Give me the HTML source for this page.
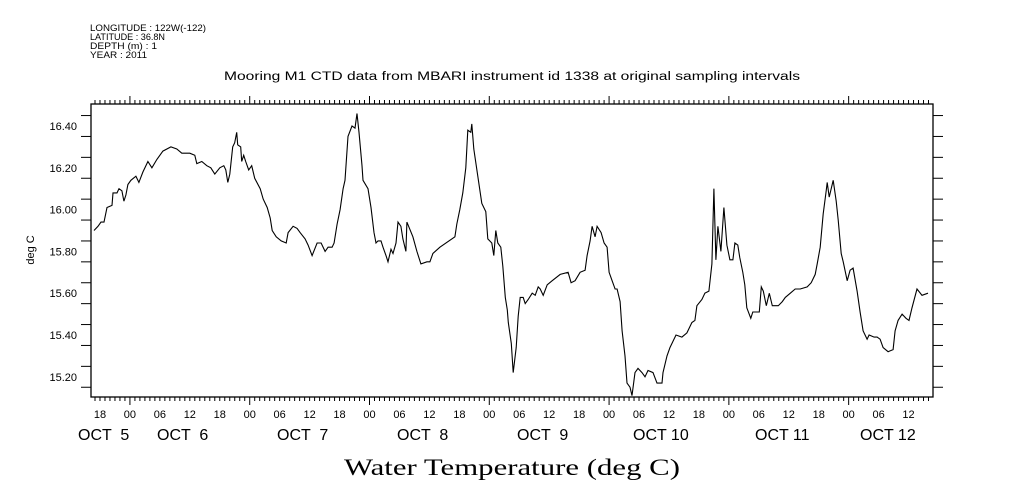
<!DOCTYPE html>
<html><head><meta charset="utf-8"><style>
body{margin:0;background:#fff;}
svg{display:block;font-family:"Liberation Sans",sans-serif;}
</style></head><body>
<svg id="chart" width="1009" height="504" viewBox="0 0 1009 504" xmlns="http://www.w3.org/2000/svg">
<rect width="1009" height="504" fill="#fff"/>
<g font-size="9.5" fill="#000">
<text x="90" y="31" textLength="116" lengthAdjust="spacingAndGlyphs">LONGITUDE : 122W(-122)</text>
<text x="90" y="40" textLength="75" lengthAdjust="spacingAndGlyphs">LATITUDE : 36.8N</text>
<text x="90" y="49" textLength="67" lengthAdjust="spacingAndGlyphs">DEPTH (m) : 1</text>
<text x="90" y="58" textLength="57" lengthAdjust="spacingAndGlyphs">YEAR : 2011</text>
</g>
<text x="512" y="80" font-size="11.5" text-anchor="middle" textLength="576" lengthAdjust="spacingAndGlyphs">Mooring M1 CTD data from MBARI instrument id 1338 at original sampling intervals</text>
<text transform="translate(34,250) rotate(-90)" font-size="11" text-anchor="middle">deg C</text>
<text x="512" y="475" font-family="'Liberation Serif',serif" font-size="23" text-anchor="middle" textLength="336" lengthAdjust="spacingAndGlyphs">Water Temperature (deg C)</text>
<g id="axes"></g>
<g id="marks"></g>
</svg>
<script>
const hours = [-7.2,-6.4,-5.8,-5.2,-4.6,-3.6,-3.4,-2.6,-2.2,-1.6,-1.2,-0.8,-0.4,0.2,1.2,1.8,2.6,3.6,4.4,5.4,6.6,8.2,9.4,10.4,12.0,13.0,13.4,14.4,15.4,16.2,17.0,18.0,18.8,19.2,19.6,20.0,20.6,21.0,21.4,21.6,22.2,22.4,22.8,23.2,23.8,24.4,25.0,26.1,26.7,27.5,28.1,28.5,29.3,30.3,31.3,31.7,32.7,33.5,34.1,35.1,35.7,36.5,37.5,38.3,39.1,39.7,40.5,40.9,41.5,42.1,42.7,43.1,43.7,44.5,45.1,45.5,45.9,46.5,46.7,47.7,48.3,48.9,49.3,49.7,50.3,50.7,51.3,51.7,52.3,52.7,53.3,53.7,54.3,54.7,55.3,55.5,56.7,57.5,58.3,59.5,60.1,60.7,62.1,65.1,65.5,66.1,66.7,67.3,67.7,68.3,68.5,68.9,69.7,70.5,71.3,71.7,72.5,72.9,73.3,73.7,74.3,74.7,75.2,75.6,75.8,76.4,76.8,77.4,77.8,78.2,78.8,79.2,79.8,80.6,81.2,81.8,82.2,82.8,83.6,84.6,86.2,87.8,88.4,89.2,90.2,91.2,91.6,92.2,92.6,93.2,93.6,94.4,95.0,95.6,96.0,96.6,97.2,97.6,98.2,98.6,99.2,99.6,100.2,100.6,101.2,101.8,102.6,103.2,103.8,104.8,105.6,106.6,106.8,107.6,108.2,109.4,110.6,111.6,112.6,113.2,113.6,114.6,115.2,116.0,116.6,117.0,117.4,117.8,118.4,119.0,119.6,120.2,120.8,121.2,121.8,122.2,122.8,123.2,123.6,124.4,124.8,125.7,126.1,126.5,126.9,127.5,128.1,128.7,129.9,130.7,131.3,132.3,133.3,134.3,135.7,136.5,137.3,137.7,138.3,138.9,139.5,139.7,140.1,140.9,141.5,141.9,142.5,142.9,143.7,144.3,144.9,145.7,146.3,146.9,147.7,148.1,149.1,149.7,150.3,150.9,151.9,152.9,153.3,153.9,154.7,155.5,156.1,156.7,157.7,158.7,159.9];
const temps = [15.90,15.92,15.94,15.94,16.01,16.02,16.08,16.08,16.10,16.09,16.04,16.07,16.12,16.14,16.16,16.13,16.18,16.23,16.20,16.24,16.28,16.30,16.29,16.27,16.27,16.26,16.22,16.23,16.21,16.20,16.17,16.20,16.21,16.19,16.13,16.17,16.30,16.32,16.37,16.31,16.30,16.23,16.26,16.23,16.19,16.21,16.15,16.10,16.05,16.01,15.96,15.90,15.87,15.85,15.84,15.89,15.92,15.91,15.89,15.86,15.83,15.78,15.84,15.84,15.80,15.82,15.82,15.84,15.93,16.00,16.10,16.14,16.35,16.40,16.39,16.46,16.37,16.21,16.14,16.10,16.01,15.89,15.84,15.85,15.85,15.82,15.78,15.75,15.81,15.79,15.84,15.94,15.92,15.86,15.80,15.94,15.87,15.80,15.74,15.75,15.75,15.79,15.82,15.87,15.93,16.00,16.08,16.20,16.38,16.37,16.41,16.29,16.16,16.03,15.99,15.86,15.84,15.78,15.90,15.84,15.82,15.73,15.58,15.52,15.46,15.36,15.22,15.34,15.49,15.58,15.58,15.55,15.57,15.60,15.59,15.63,15.62,15.59,15.64,15.66,15.69,15.70,15.65,15.66,15.70,15.71,15.78,15.85,15.92,15.87,15.92,15.89,15.84,15.82,15.70,15.66,15.62,15.62,15.56,15.42,15.30,15.17,15.15,15.11,15.22,15.24,15.22,15.20,15.23,15.22,15.17,15.17,15.22,15.30,15.34,15.40,15.39,15.41,15.46,15.47,15.54,15.57,15.60,15.61,15.74,16.10,15.76,15.92,15.80,16.01,15.83,15.76,15.76,15.84,15.83,15.77,15.70,15.64,15.53,15.48,15.51,15.51,15.51,15.63,15.61,15.54,15.60,15.54,15.54,15.56,15.58,15.60,15.62,15.62,15.63,15.65,15.69,15.74,15.82,15.98,16.09,16.13,16.06,16.14,16.04,15.95,15.79,15.75,15.66,15.71,15.72,15.61,15.51,15.42,15.38,15.40,15.39,15.39,15.38,15.34,15.32,15.33,15.42,15.47,15.50,15.48,15.47,15.53,15.62,15.59,15.60];
const yTickLabels = ["15.20","15.40","15.60","15.80","16.00","16.20","16.40"];
const hourLabels = ["18","00","06","12"];
const dayLabels = ["OCT  5","OCT  6","OCT  7","OCT  8","OCT  9","OCT 10","OCT 11","OCT 12"];

const NS="http://www.w3.org/2000/svg";
const L=91,R=933,T=104,B=397;
const H0=-7.8,H1=160.9;
function xs(h){return L+(h-H0)/(H1-H0)*(R-L);}
function ys(v){return 126+(16.4-v)*209;}
function mk(tag,attrs,parent){const e=document.createElementNS(NS,tag);for(const k in attrs)e.setAttribute(k,attrs[k]);parent.appendChild(e);return e;}
const ax=document.getElementById('axes');
const frame=mk('rect',{x:L,y:T,width:R-L,height:B-T,fill:'none',stroke:'#000','stroke-width':1.3},ax);


for(let i=0;i<=13;i++){
  const v=15.15+i*0.1; const y=ys(v);
  if(y<T||y>B)continue;
  const t1=mk('line',{x1:L-10,x2:L,y1:y,y2:y,stroke:'#000'},ax);
  
  
  const t2=mk('line',{x1:R,x2:R+10,y1:y,y2:y,stroke:'#000'},ax);
  
  
}
yTickLabels.forEach(s=>{
  const y=ys(parseFloat(s));
  const t=mk('text',{x:L-14,y:y+4,'font-size':11,'text-anchor':'end'},ax);
  t.textContent=s;
  
  
});
for(let h=Math.ceil(H0);h<=H1;h++){
  const x=xs(h); const major=((h%24)+24)%24===0; const len=major?8:4;
  const a=mk('line',{x1:x,x2:x,y1:T-len,y2:T,stroke:'#000'},ax);
  
  
  const b=mk('line',{x1:x,x2:x,y1:B,y2:B+len,stroke:'#000'},ax);
  
  
}
for(let h=-6;h<=H1;h+=6){
  const idx=(((h%24)+24)%24)/6; const lab=hourLabels[(idx+1)%4];
  const t=mk('text',{x:xs(h),y:418,'font-size':11,'text-anchor':'middle'},ax);
  t.textContent=lab;
  
  
}
const dayX=[78,157,277,397,517,633,755,860];
dayLabels.forEach((s,i)=>{
  const t=mk('text',{x:dayX[i],y:440,'font-size':16},ax);
  t.style.whiteSpace='pre';
  t.textContent=s;
  
  
});
const mg=document.getElementById('marks');
const p=mk('path',{d:hours.map((h,i)=>(i?'L':'M')+xs(h).toFixed(1)+','+ys(temps[i]).toFixed(1)).join(''),fill:'none',stroke:'#000','stroke-width':1.1},mg);


</script>
</body></html>
